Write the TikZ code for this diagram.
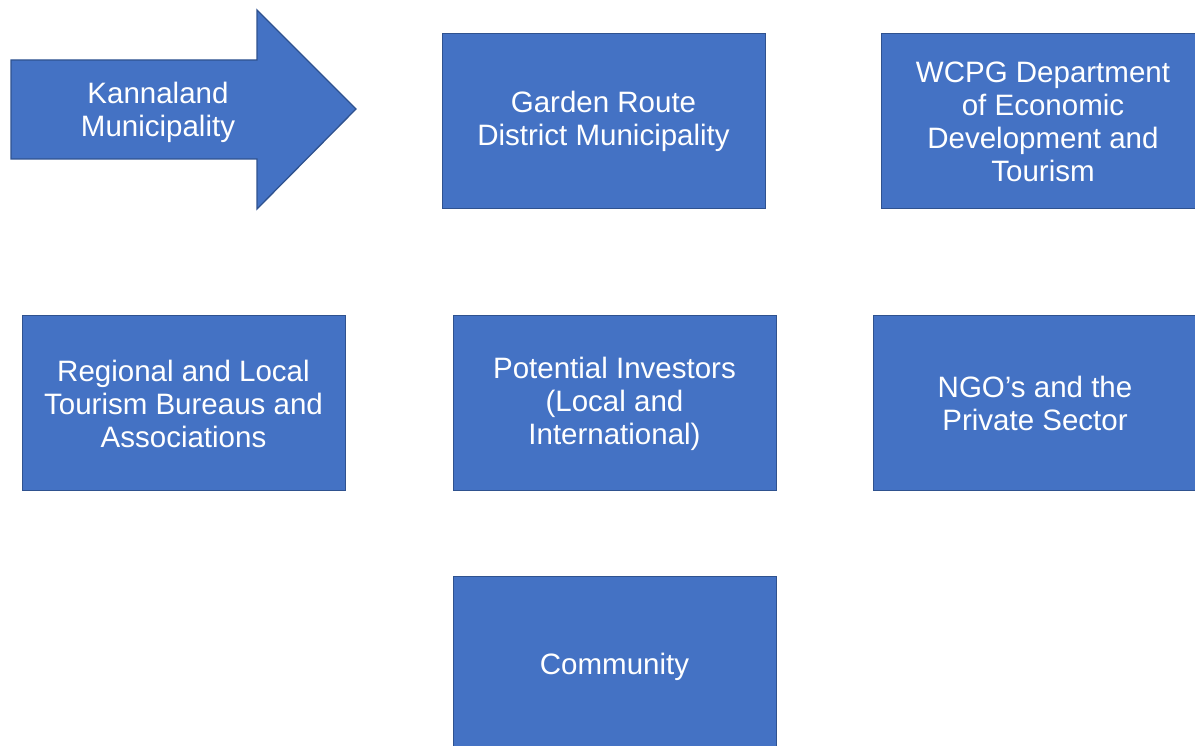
\documentclass[tikz,border=0pt]{standalone}
\usepackage{fontspec}
\setmainfont{Liberation Sans}
\definecolor{boxfill}{HTML}{4472C4}
\definecolor{boxline}{HTML}{2F528F}
\begin{document}
\begin{tikzpicture}[x=1pt,y=-1pt,
  orgbox/.style={draw=boxline,line width=1.3pt,fill=boxfill,minimum width=323pt,minimum height=175pt,inner sep=0pt,anchor=north west},
  label/.style={text=white,align=center,font=\fontsize{29.5}{33}\selectfont}]
\useasboundingbox (0,0) rectangle (1195,746);
\clip (0,0) rectangle (1195,746);
% arrow shape
\draw[boxline,line width=1.3pt,fill=boxfill,line join=miter]
  (11,60) -- (257,60) -- (257,10) -- (356,109) -- (257,209) -- (257,159) -- (11,159) -- cycle;
\node[label] (kann) at (158,112) {Kannaland\\Municipality};
% boxes (the right-hand column and the bottom box run past the page edge)
\node[orgbox] (garden) at (442,33) {};
\node[label] at (603.5,121.5) {Garden Route\\District Municipality};
\node[orgbox,minimum width=360pt] (wcpg) at (881,33) {};
\node[label] at (1043,121.5) {WCPG Department\\of Economic\\Development and\\Tourism};
\node[orgbox] (regional) at (22,315) {};
\node[label] at (183.5,403.5) {Regional and Local\\Tourism Bureaus and\\Associations};
\node[orgbox] (investors) at (453,315) {};
\node[label] at (614.5,403.5) {Potential Investors\\(Local and\\International)};
\node[orgbox,minimum width=360pt] (ngo) at (873,315) {};
\node[label] at (1035,403.5) {NGO’s and the\\Private Sector};
\node[orgbox,minimum height=220pt] (community) at (453,576) {};
\node[label] at (614.5,667) {Community};
\end{tikzpicture}
\end{document}
